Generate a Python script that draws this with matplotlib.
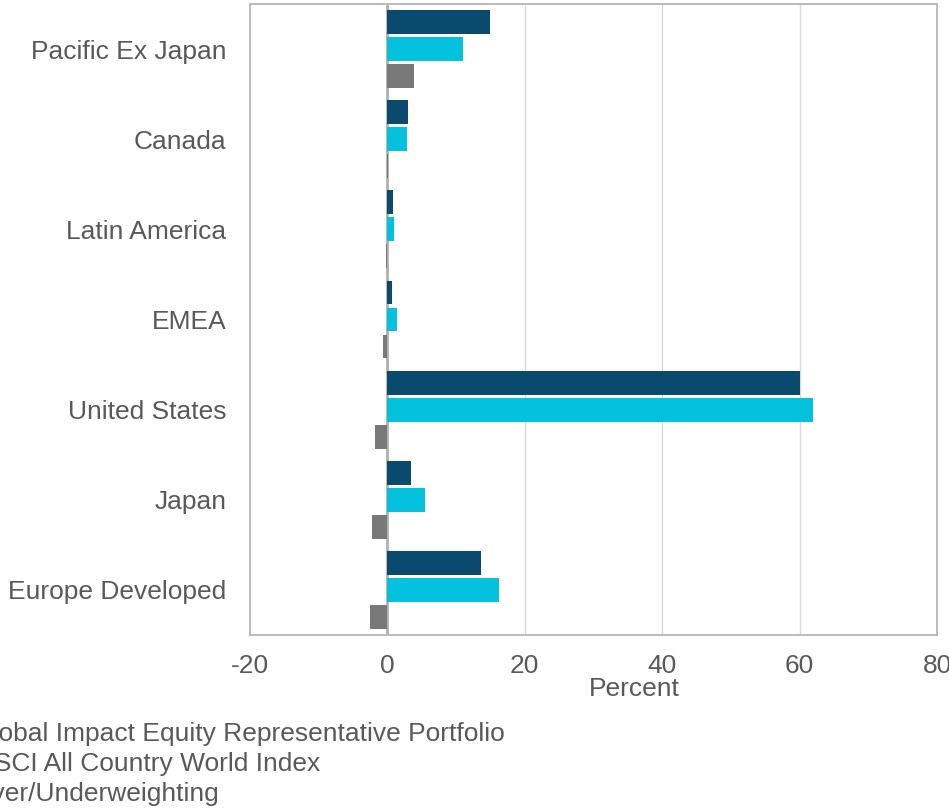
import matplotlib
matplotlib.use("Agg")
import matplotlib.pyplot as plt
import numpy as np

plt.rcParams["font.family"] = ["Liberation Sans", "DejaVu Sans"]
plt.rcParams["axes.unicode_minus"] = False

# regions listed bottom -> top (as drawn on the y axis)
REGIONS = ["Europe Developed", "Japan", "United States", "EMEA",
           "Latin America", "Canada", "Pacific Ex Japan"]
PORTFOLIO = [13.6, 3.4, 60.0, 0.7, 0.8, 3.0, 14.9]
MSCI_ACWI = [16.2, 5.5, 61.9, 1.4, 1.0, 2.9, 11.0]
OVER_UNDER = [-2.6, -2.2, -1.8, -0.7, -0.15, 0.15, 3.9]

SERIES_LABELS = ["Global Impact Equity Representative Portfolio",
                 "MSCI All Country World Index",
                 "Over/Underweighting"]
COLORS = ["#0a4a6e", "#04c1de", "#787878"]
TEXT = "#595959"
FS = 19

fig = plt.figure(figsize=(9.49, 8.08), dpi=100)
ax = fig.add_axes([250 / 949, 1 - 635 / 808, 687 / 949, 631 / 808])

y = np.arange(len(REGIONS))
h = 0.265
step = 0.3
bars = []
for off, vals, col, lab in zip([step, 0, -step], [PORTFOLIO, MSCI_ACWI, OVER_UNDER],
                               COLORS, SERIES_LABELS):
    b = ax.barh(y + off, vals, height=h, color=col, label=lab, zorder=3)
    bars.append(b)

ax.set_xlim(-20, 80)
ax.set_ylim(-0.5, len(REGIONS) - 0.5)
ax.set_xticks([-20, 0, 20, 40, 60, 80])
ax.set_yticks(y)
ax.set_yticklabels(REGIONS)
ax.tick_params(axis="both", length=0, labelsize=FS, labelcolor=TEXT)
ax.tick_params(axis="x", pad=14)
ax.tick_params(axis="y", pad=17)

for xv in [20, 40, 60]:
    ax.axvline(xv, color="#d9d9d9", lw=1.0, zorder=1)
ax.axvline(0, color="#b0b0b0", lw=2.0, zorder=2)
for sp in ax.spines.values():
    sp.set_color("#b5b5b5")
    sp.set_linewidth(1.3)

ax.set_xlabel("Percent", fontsize=FS, color=TEXT)
ax.xaxis.set_label_coords((634 - 250) / 687, -0.066)

fs_px = FS * 100 / 72
x0 = (-28 - 1.5 * fs_px) / 949
fig.legend(handles=bars, labels=SERIES_LABELS, loc="upper left",
           bbox_to_anchor=(x0, 1 - 722 / 808), frameon=False, fontsize=FS,
           labelcolor=TEXT, borderpad=0, borderaxespad=0, handlelength=1.0,
           handletextpad=0.5, labelspacing=0.23)

fig.savefig("out.png", dpi=100)
